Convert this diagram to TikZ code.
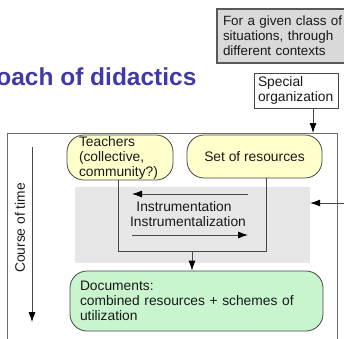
\documentclass[tikz,border=0pt]{standalone}
\usepackage{fontspec}
\setmainfont{Liberation Sans}
\usetikzlibrary{arrows.meta}
\definecolor{ylw}{RGB}{255,255,204}
\definecolor{grn}{RGB}{200,245,205}
\definecolor{gry}{RGB}{230,230,230}
\definecolor{topgry}{RGB}{217,217,217}
\definecolor{ttl}{RGB}{65,57,165}
\definecolor{ln}{RGB}{70,70,70}
\begin{document}
\begin{tikzpicture}[x=1pt,y=-1pt,
  every node/.style={font=\fontsize{13.8}{15}\selectfont, text=black!90},
  sq/.style={draw=ln, line width=0.8pt, inner sep=0pt},
  rbox/.style={draw=ln, line width=0.8pt, rounded corners=17pt, inner sep=0pt},
  conn/.style={draw=ln, line width=0.8pt},
  arr/.style={conn, -{Latex[length=10pt,width=7pt,color=black]}}
]
\useasboundingbox (0,0) rectangle (344,338);
\clip (0,0) rectangle (344,338);

% title
\node[anchor=base east, font=\bfseries\fontsize{24.5}{28}\selectfont, text=ttl] (title) at (200,85) {approach of didactics};

% top boxes
\node[sq, fill=topgry, draw=black!65, line width=1.5pt, inner xsep=6pt, text width=130pt, minimum height=54pt, align=left, font=\fontsize{13.4}{15}\selectfont] (ctx) at (288,36) {For a given class of\\situations, through\\different contexts};
\node[sq, fill=white, inner xsep=4pt, text width=76pt, minimum height=35pt, align=left] (spec) at (296,90.5) {Special\\organization};

% frame
\node[sq, draw=ln!80, anchor=north west, minimum width=330pt, minimum height=220pt] (frame) at (7,133) {};
\draw[arr] ([xshift=17pt]spec.south) -- ([xshift=17pt]spec.south |- frame.north);

% grey area
\node[inner sep=0pt, fill=gry, minimum width=235pt, minimum height=76pt] (gbox) at (192.5,225) {};

% yellow nodes
\node[rbox, fill=ylw, inner xsep=12pt, text width=82pt, minimum height=45pt, align=left] (teach) at (120,157.5) {Teachers\\(collective,\\community?)};
\node[rbox, fill=ylw, minimum width=135pt, minimum height=43pt, align=center] (res) at (254.5,156.5) {Set of resources};

% documents
\node[rbox, fill=grn, inner xsep=10pt, text width=233pt, minimum height=60pt, align=left] (docs) at (196.5,301) {Documents:\\combined resources + schemes of\\utilization};

% loop lines
\coordinate (loop) at (192,251);
\draw[conn] ([xshift=-2pt]teach.south) -- ([xshift=-2pt]teach.south |- loop) -- ([xshift=11.5pt]res.south |- loop) -- ([xshift=11.5pt]res.south);
\draw[arr] (loop) -- (loop |- docs.north);

% instrumentation
\node[inner sep=0pt] (ins1) at (184,207) {Instrumentation};
\node[inner sep=0pt] (ins2) at (188,222) {Instrumentalization};
\coordinate (a1s) at (248,194);
\coordinate (a1e) at (132,194);
\coordinate (a2s) at (132,235);
\coordinate (a2e) at (248,235);
\draw[arr] (a1s) -- (a1e);
\draw[arr] (a2s) -- (a2e);

% incoming arrow from right
\coordinate (rin) at (350,203);
\draw[arr] (rin) -- (rin -| gbox.east);

% course of time
\coordinate (cts) at (32,147);
\coordinate (cte) at (32,322);
\draw[arr] (cts) -- (cte);
\node[inner sep=0pt, rotate=90] (ctime) at (20,228) {Course of time};
\end{tikzpicture}
\end{document}
